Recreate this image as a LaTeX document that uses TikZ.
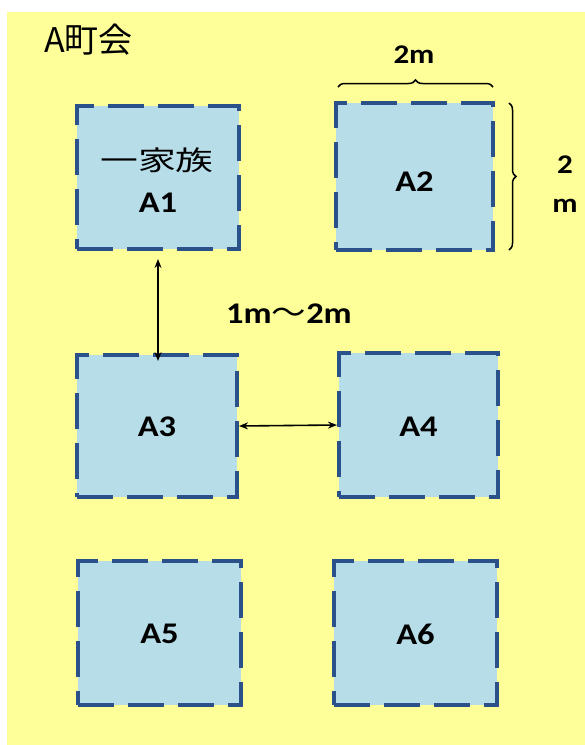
\documentclass[tikz,border=0pt]{standalone}
\usepackage{fontspec}
\setmainfont{Carlito}
\newfontfamily\cjk{Noto Sans CJK JP}
\usetikzlibrary{arrows.meta,decorations.pathreplacing}
\definecolor{bgyellow}{HTML}{FFFF99}
\definecolor{boxfill}{HTML}{B7DDE8}
\definecolor{boxline}{HTML}{2A5189}
\newcommand{\wide}[1]{\scalebox{1.15}[1]{#1}}
\tikzset{
  plot/.style={draw=boxline, fill=boxfill, line width=4pt,
    dash pattern=on 36pt off 14pt, inner sep=0pt, anchor=center},
  lab/.style={font=\fontsize{30}{32}\selectfont\bfseries, inner sep=0pt},
  dimlab/.style={font=\fontsize{27}{29}\selectfont\bfseries, inner sep=0pt},
  arr/.style={line width=1.6pt, {Stealth[length=9pt,width=7pt]}-{Stealth[length=9pt,width=7pt]}},
  bracestyle/.style={line width=1.5pt, decorate, decoration={brace, amplitude=7pt}}
}
\begin{document}
\begin{tikzpicture}[x=1pt,y=-1pt]
\useasboundingbox (0,0) rectangle (585,745);
\fill[bgyellow] (7,12) rectangle (585,745);
\node[anchor=west, inner sep=0pt, font=\cjk\fontsize{34}{36}\selectfont] (title) at (44,40) {A町会};
\node[plot, minimum width=162pt, minimum height=143pt] (A1) at (158,177.5) {};
\node[plot, minimum width=157pt, minimum height=147pt] (A2) at (414.5,176.5) {};
\node[plot, minimum width=160pt, minimum height=142pt] (A3) at (157,426) {};
\node[plot, minimum width=159pt, minimum height=144pt] (A4) at (418.5,425) {};
\node[plot, minimum width=163pt, minimum height=144pt] (A5) at (159.5,633) {};
\node[plot, minimum width=163pt, minimum height=144pt] (A6) at (415.5,633) {};
\node[inner sep=0pt, font=\cjk\fontsize{27}{30}\selectfont] (fam) at (157,160) {\scalebox{1.4}[1]{一家族}};
\node[lab] (t1) at (158,203) {\wide{A1}};
\node[lab] (t2) at (414.5,182) {\wide{A2}};
\node[lab] (t3) at (157,427) {\wide{A3}};
\node[lab] (t4) at (418.5,427) {\wide{A4}};
\node[lab] (t5) at (159.5,634) {\wide{A5}};
\node[lab] (t6) at (415.5,634) {\wide{A6}};
\node[lab] (gap) at (289,314) {\wide{1m{\cjk\mdseries 〜}2m}};
\draw[arr] ([yshift=-8pt]A1.south) -- ([yshift=-8pt]A1.south |- A3.north);
\draw[arr] (A3.east) -- (A4.west);
\coordinate (bl) at ([xshift=4pt,yshift=14pt]A2.north west);
\coordinate (br) at ([xshift=-2pt,yshift=14pt]A2.north east);
\draw[bracestyle] (bl) -- (br);
\node[dimlab] (w2m) at (414,55) {\wide{2m}};
\coordinate (rt) at ([xshift=14pt,yshift=-2pt]A2.north east);
\coordinate (rb) at ([xshift=14pt,yshift=2pt]A2.south east);
\draw[bracestyle] (rt) -- (rb);
\node[dimlab] (h2) at (565,165) {\wide{2}};
\node[dimlab] (hm) at (565,206) {\wide{m}};
\end{tikzpicture}
\end{document}
